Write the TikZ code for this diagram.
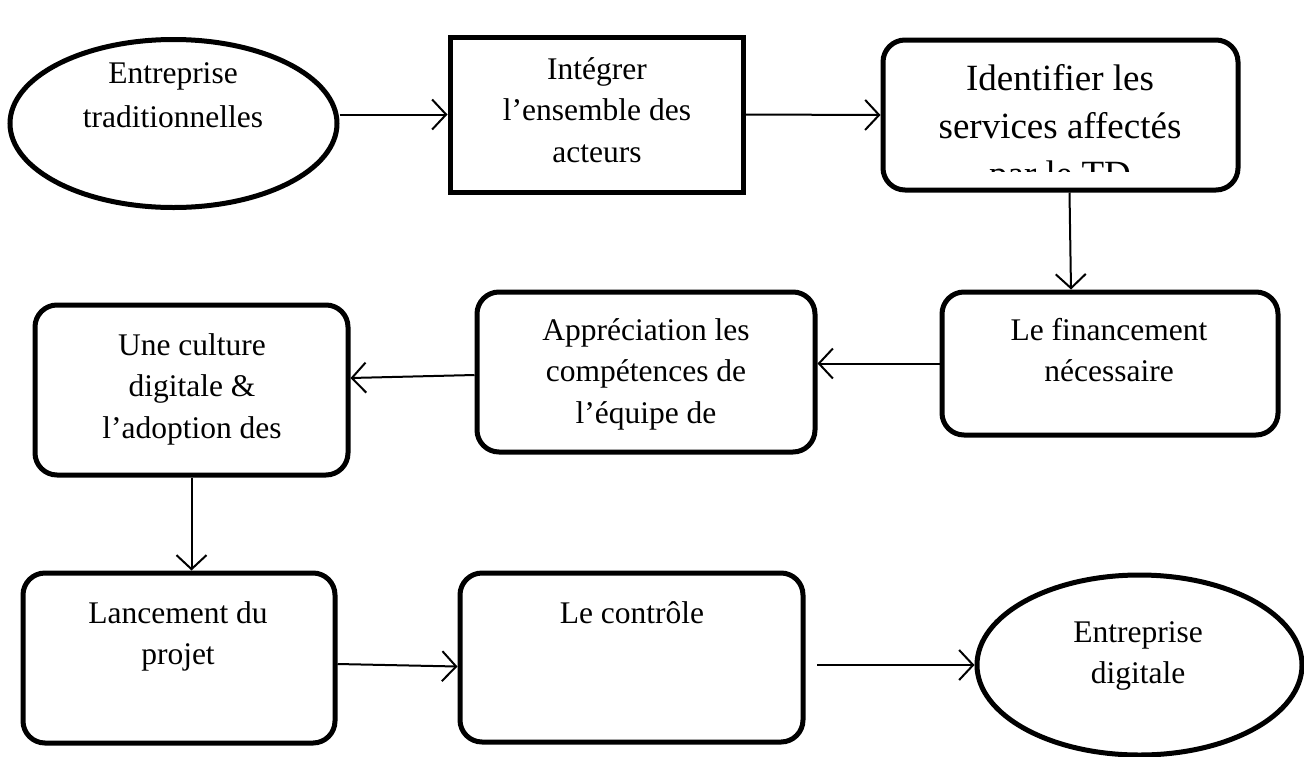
\documentclass[tikz,border=0pt]{standalone}
\usepackage{fontspec}
\setmainfont{Liberation Serif}
\usetikzlibrary{shapes.geometric,arrows.meta}
\newcommand\mlines[1]{\begin{tabular}[t]{@{}c@{}}#1\end{tabular}}
\tikzset{
  frame/.style={draw, line width=5pt, inner sep=0pt},
  rbox/.style={frame, rectangle, rounded corners=22pt},
  sbox/.style={frame, rectangle},
  oval/.style={frame, ellipse},
  lbl/.style={anchor=base, inner sep=0pt, font=\fontsize{31.5}{41.5}\selectfont},
  arr/.style={line width=2pt, -{Straight Barb[length=14pt,width=30pt]}},
}
\begin{document}
\begin{tikzpicture}[x=1pt,y=-1pt]
\fill[white] (0,0) rectangle (1304,756);
\useasboundingbox (0,0) rectangle (1304,756);

% shapes
\node[oval, minimum width=327pt, minimum height=168pt] (e1) at (173.5,123.5) {};
\node[sbox, minimum width=293pt, minimum height=155pt] (b2) at (596.5,114.5) {};
\node[rbox, minimum width=355pt, minimum height=150pt] (b3) at (1060.5,115) {};
\node[rbox, minimum width=336pt, minimum height=143pt] (b4) at (1110,363.5) {};
\node[rbox, minimum width=338pt, minimum height=160pt] (b5) at (646,372) {};
\node[rbox, minimum width=313pt, minimum height=170pt] (b6) at (191.5,390) {};
\node[rbox, minimum width=312pt, minimum height=170pt] (b7) at (179,658) {};
\node[rbox, minimum width=343pt, minimum height=169pt] (b8) at (631.5,657.5) {};
\node[oval, minimum width=325pt, minimum height=180pt] (e9) at (1139.5,665) {};

% texts
\node[lbl, font=\fontsize{31.5}{44}\selectfont] (t1) at (173,83) {\mlines{Entreprise\\traditionnelles}};
\node[lbl] (t2) at (597,79) {\mlines{Intégrer\\l’ensemble des\\acteurs}};
\begin{scope}
\clip (883,40) rectangle (1238,171);
\node[lbl, font=\fontsize{37}{48}\selectfont] (t3) at (1060,90) {\mlines{Identifier les\\services affectés\\par le TD}};
\end{scope}
\node[lbl] (t4) at (1109,340) {\mlines{Le financement\\nécessaire}};
\node[lbl] (t5) at (646,340) {\mlines{Appréciation les\\compétences de\\l’équipe de}};
\node[lbl] (t6) at (192,355) {\mlines{Une culture\\digitale \&\\l’adoption des}};
\node[lbl] (t7) at (178,623) {\mlines{Lancement du\\projet}};
\node[lbl] (t8) at (632,623) {\mlines{Le contrôle}};
\node[lbl] (t9) at (1138,642) {\mlines{Entreprise\\digitale}};

% connectors
\coordinate (c8) at (817,665);
\draw[arr] (e1.east |- b2.west) -- (b2.west);
\draw[arr] (b2.east) -- (b3.west);
\draw[arr] ([xshift=9pt]b3.south) -- ([xshift=-39pt]b4.north);
\draw[arr] (b4.west) -- (b4.west -| b5.east);
\draw[arr] ([yshift=-3pt]b5.west) -- ([yshift=12pt]b6.east);
\draw[arr] (b6.south) -- (b6.south |- b7.north);
\draw[arr] ([yshift=-6pt]b7.east) -- ([yshift=-9pt]b8.west);
\draw[arr] (c8) -- (e9.west);
\end{tikzpicture}
\end{document}
